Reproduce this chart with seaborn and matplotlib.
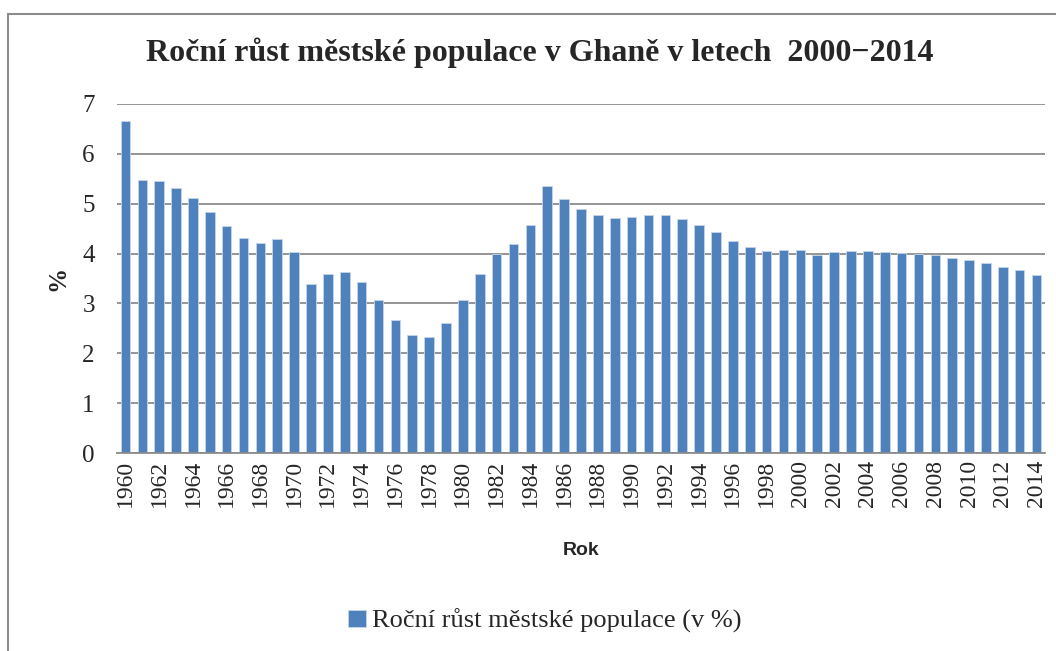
import matplotlib
matplotlib.use("Agg")
import matplotlib.pyplot as plt
import seaborn as sns
import pandas as pd
from matplotlib.patches import Rectangle

# Data
years = list(range(1960, 2015))
growth = [
    6.66, 5.48, 5.45, 5.32, 5.11, 4.83, 4.55, 4.31, 4.21, 4.30,
    4.03, 3.39, 3.60, 3.63, 3.42, 3.07, 2.66, 2.37, 2.32, 2.60,
    3.07, 3.60, 3.99, 4.19, 4.58, 5.35, 5.09, 4.90, 4.78, 4.72,
    4.74, 4.78, 4.77, 4.70, 4.58, 4.44, 4.26, 4.13, 4.06, 4.07,
    4.07, 3.97, 4.03, 4.05, 4.06, 4.04, 4.02, 3.99, 3.97, 3.92,
    3.87, 3.81, 3.74, 3.67, 3.58,
]
series_name = "Roční růst městské populace (v %)"
title = "Roční růst městské populace v Ghaně v letech  2000\u22122014"

df = pd.DataFrame({"Rok": [str(y) for y in years], "value": growth})

sns.set_style("white")
serif = ["Liberation Serif", "DejaVu Serif"]
sans = ["Liberation Sans", "DejaVu Sans"]

fig = plt.figure(figsize=(10.56, 6.51), dpi=100)
ax = fig.add_axes([117 / 1056, 1 - 453 / 651, (1045 - 117) / 1056, (453 - 104) / 651])

sns.barplot(data=df, x="Rok", y="value", color="#4F81BD", saturation=1,
            width=0.57, ax=ax, label=series_name, edgecolor="#C5D5EA", linewidth=0.6)

ax.set_xlim(-0.5, len(years) - 0.5)
ax.set_ylim(0, 7)
ax.set_yticks(range(0, 8))
ax.yaxis.grid(True, color="#8C8C8C", linewidth=1.3)
ax.set_axisbelow(True)
for s in ["top", "right", "left"]:
    ax.spines[s].set_visible(False)
ax.spines["bottom"].set_color("#8C8C8C")
ax.spines["bottom"].set_linewidth(1.3)

ax.set_xticks(range(0, len(years), 2))
ax.set_xticklabels([str(y) for y in years[::2]], rotation=90, family=serif, fontsize=17)
for lbl in ax.get_yticklabels():
    lbl.set_family(serif)
    lbl.set_fontsize(18)
ax.tick_params(axis="y", pad=16, length=0)
ax.tick_params(axis="x", pad=5, length=0)

ax.set_xlabel("Rok", family=sans, fontsize=14, fontweight="bold", labelpad=25)
ax.set_ylabel("%", family=serif, fontsize=18, fontweight="bold", labelpad=9)

fig.text(540 / 1056, 1 - 53 / 651, title, ha="center", va="center",
         family=serif, fontsize=23, fontweight="bold")

fig.legend(loc="center", bbox_to_anchor=(545 / 1056, 1 - 621 / 651),
           frameon=False, prop={"family": serif, "size": 19},
           handlelength=0.65, handleheight=0.65, handletextpad=0.25)
if ax.get_legend() is not None:
    ax.get_legend().remove()

fig.patches.append(Rectangle((8 / 1056, -0.01), 1.0, 1 - 14 / 651 + 0.01,
                             transform=fig.transFigure, fill=False,
                             edgecolor="#8C8C8C", linewidth=1.5))

fig.savefig("out.png", dpi=100)
